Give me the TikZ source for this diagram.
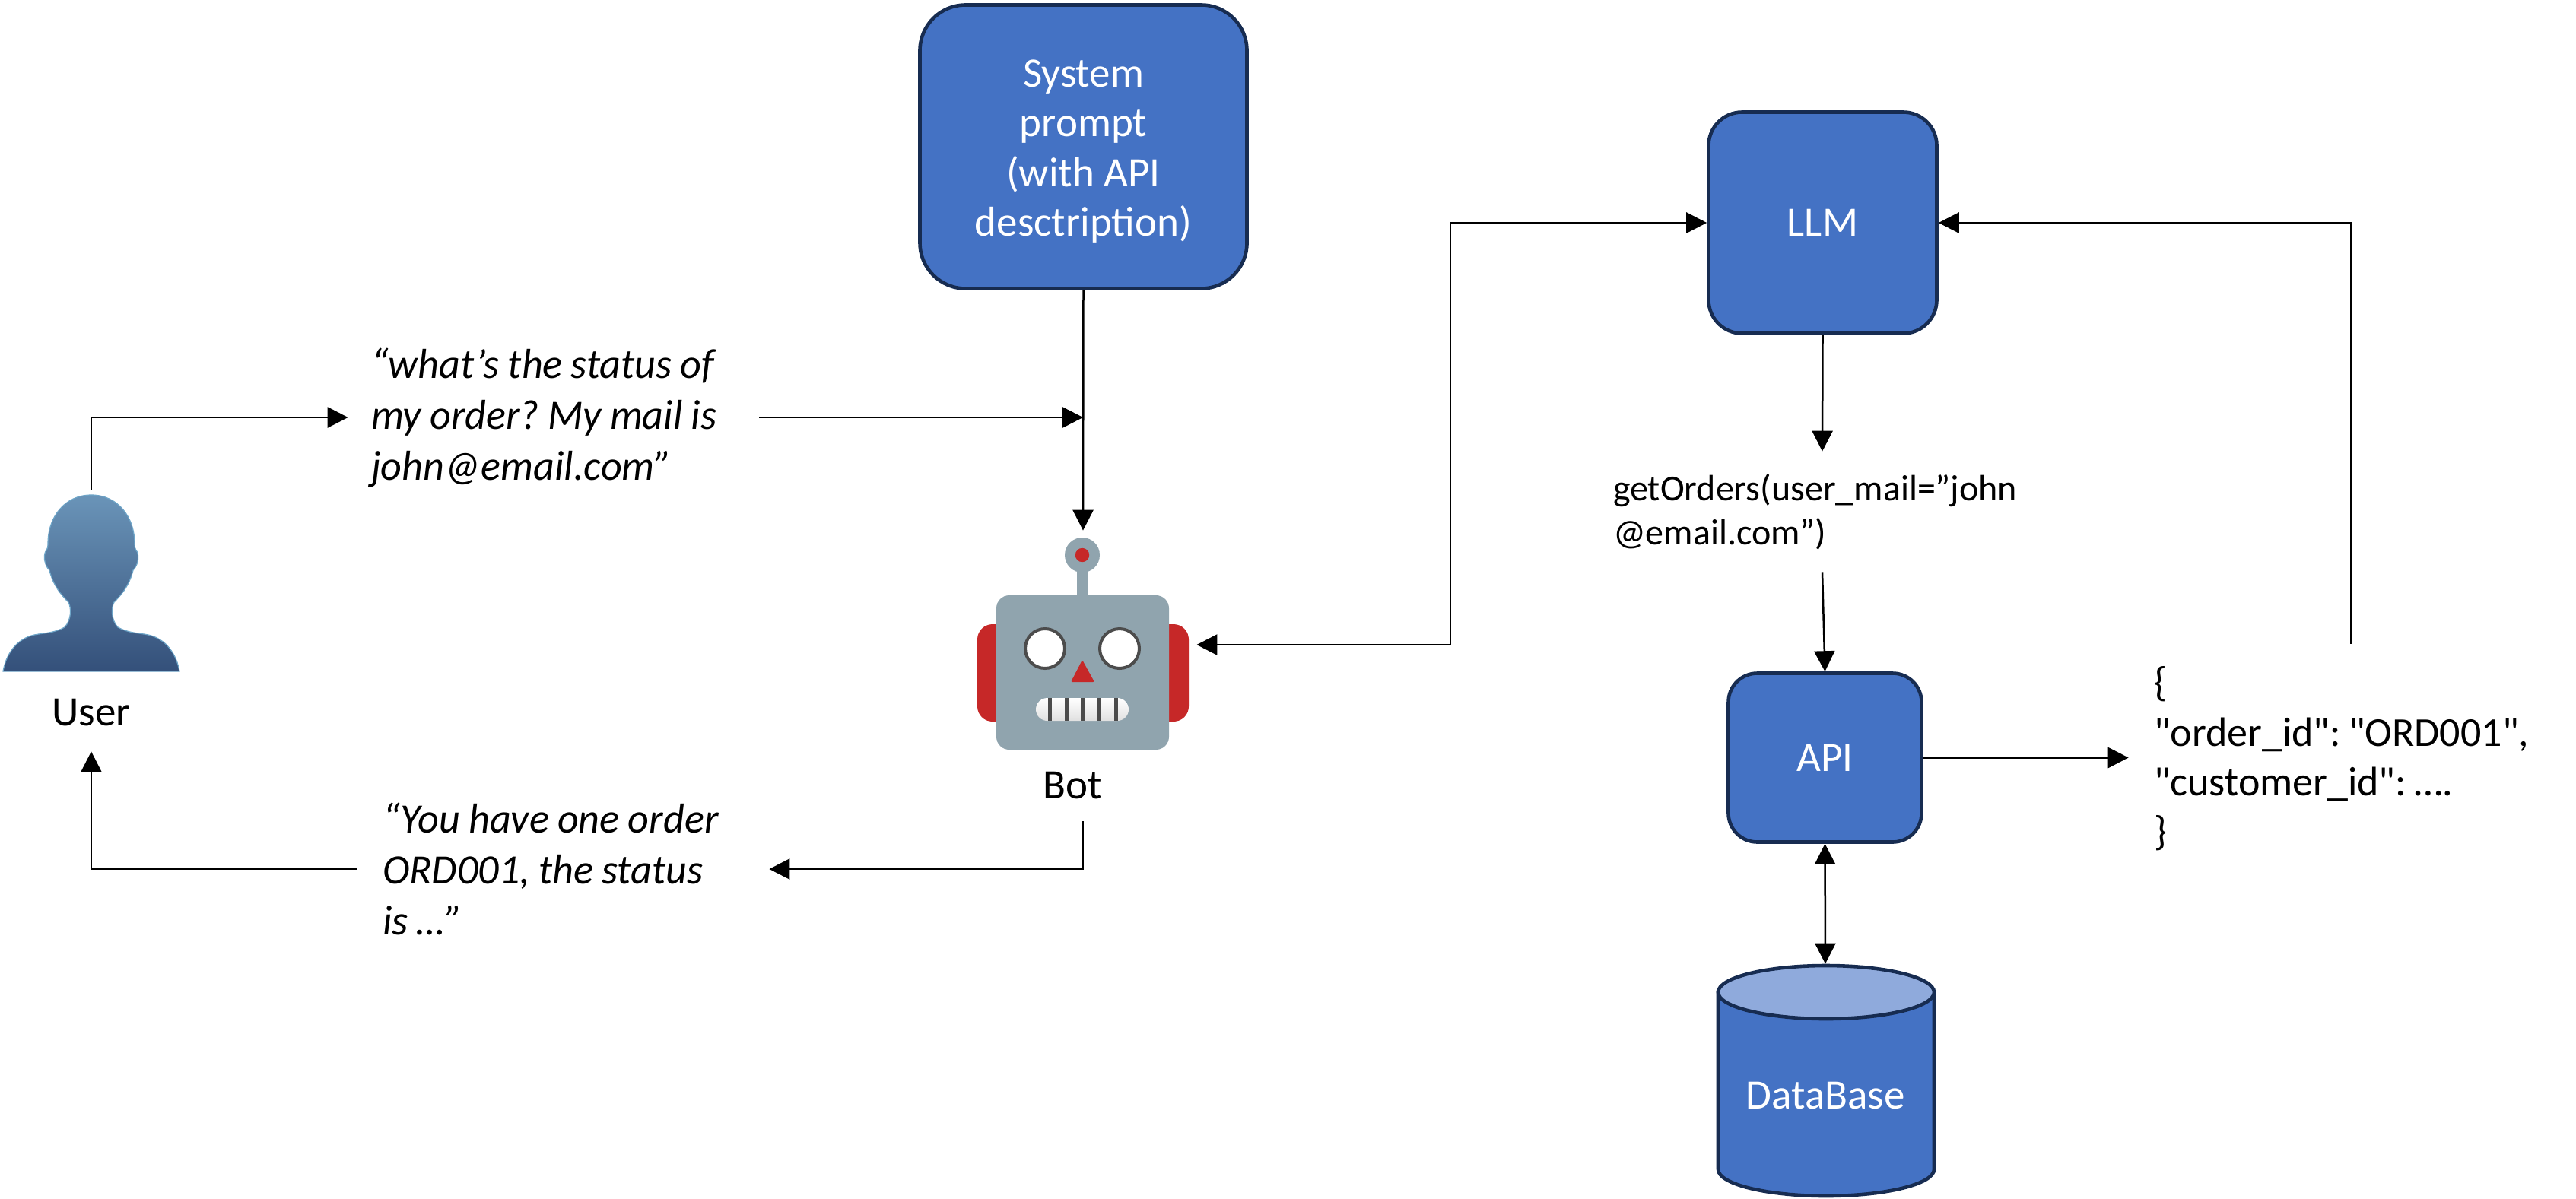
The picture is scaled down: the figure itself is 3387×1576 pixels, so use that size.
\documentclass[tikz,border=0pt]{standalone}
\usepackage{fontspec}
\setmainfont{Carlito}
\newfontfamily\jsonfont{Carlito}
\newfontfamily\quotefont[FakeStretch=0.985,Ligatures=TeX]{Carlito Italic}
\usetikzlibrary{arrows.meta}
\protected\def\tightsp{\frenchspacing\spaceskip=5.6pt\relax\xspaceskip=5.6pt\relax}
\protected\def\jsonsp{\frenchspacing\spaceskip=5pt\relax\xspaceskip=5pt\relax}
\definecolor{boxblue}{HTML}{4472C4}
\definecolor{boxedge}{HTML}{172C51}
\definecolor{dbcap}{HTML}{8FAADC}
\definecolor{robgrey}{HTML}{90A4AE}
\definecolor{robred}{HTML}{C62828}
\definecolor{persontop}{HTML}{6A94B8}
\definecolor{personbot}{HTML}{34507A}
\definecolor{personedge}{HTML}{6EA5C8}
\tikzset{
  x=0.5pt,y=-0.5pt,
  conn/.style={line width=1.25pt,-{Triangle[length=13.5pt,width=13.5pt]}},
  conntwo/.style={line width=1.25pt,{Triangle[length=13.5pt,width=13.5pt]}-{Triangle[length=13.5pt,width=13.5pt]}},
  bluebox/.style={draw=boxedge,fill=boxblue,line width=2.3pt,text=white,align=center,inner sep=0pt,font=\fontsize{27.5}{33}\selectfont},
  area/.style={inner sep=0pt,minimum width=#1},
  area/.default=0pt,
  quote/.style={inner ysep=0pt,align=left,font=\quotefont\fontsize{27.5}{33.5}\selectfont},
  plain/.style={inner sep=0pt,font=\fontsize{27.5}{33.5}\selectfont}
}
\begin{document}
\begin{tikzpicture}
\useasboundingbox (0,0) rectangle (3387,1576);
% person
\shade[top color=persontop,bottom color=personbot,draw=personedge,line width=0.6pt]
 (120,651) .. controls (155,651) and (177,680) .. (177,715)
 .. controls (177,720) and (178,722) .. (179,724)
 .. controls (183,727) and (183,742) .. (175,750)
 .. controls (170,770) and (160,782) .. (150,792)
 .. controls (146,800) and (146,815) .. (155,825)
 .. controls (170,833) and (180,832) .. (195,835)
 .. controls (218,840) and (232,860) .. (236,883)
 -- (4,883)
 .. controls (8,860) and (22,840) .. (45,835)
 .. controls (60,832) and (70,833) .. (85,825)
 .. controls (94,815) and (94,800) .. (90,792)
 .. controls (80,782) and (70,770) .. (65,750)
 .. controls (57,742) and (57,727) .. (61,724)
 .. controls (62,722) and (63,720) .. (63,715)
 .. controls (63,680) and (85,651) .. (120,651) -- cycle;
\node[area=116.5pt,minimum height=171.5pt] (user) at (120,816.5) {};
\node[plain] (userlabel) at (120,937) {User};
% robot
\fill[robred,rounded corners=10pt] (1285,821) rectangle (1563,949);
\fill[robgrey] (1416,740) rectangle (1431,790);
\fill[robgrey] (1423,730) circle (11.5pt);
\fill[robred] (1423,730) circle (4.6pt);
\fill[robgrey,rounded corners=8.5pt] (1310,783) rectangle (1537,986);
\draw[fill=white,draw=black!70,line width=2pt] (1374,853) circle (13pt);
\draw[fill=white,draw=black!70,line width=2pt] (1472,853) circle (13pt);
\fill[robred,rounded corners=1pt] (1423,868) -- (1439,897) -- (1408,897) -- cycle;
\shade[top color=white,bottom color=black!12,rounded corners=7.5pt] (1362,918) rectangle (1484,948);
\foreach \tx in {1380,1402,1423,1445,1467}{\fill[black!70] (\tx-2.5,918) rectangle (\tx+2.5,948);}
\node[area=149pt,minimum height=191pt] (bot) at (1424,889) {};
\node[plain] (botlabel) at (1410,1033) {Bot};
% boxes
\node[bluebox,rounded corners=30pt,minimum width=215pt,minimum height=186.5pt] (sys) at (1424.5,193) {};
\node[inner sep=0pt,align=center,text=white,font=\fontsize{27.5}{32.8}\selectfont] (syslabel) at (1424.5,199)
  {System\\prompt\\(with API\\desctription)};
\node[bluebox,rounded corners=22pt,minimum width=150pt,minimum height=145.5pt] (llm) at (2396.5,293) {LLM};
\node[bluebox,rounded corners=19pt,minimum width=127pt,minimum height=111pt] (api) at (2399.5,996.5) {API};
% database
\draw[fill=boxblue,draw=boxedge,line width=2.3pt] (2259,1305) -- (2259,1538)
  arc[start angle=180,end angle=360,x radius=71pt,y radius=17.5pt] -- (2543,1305) -- cycle;
\draw[fill=dbcap,draw=boxedge,line width=2.3pt] (2401,1305) ellipse [x radius=71pt,y radius=17.5pt];
\node[area=144pt,minimum height=153.5pt] (db) at (2400,1421.5) {};
\node[plain,text=white] (dblabel) at (2400,1441) {DataBase};
% texts
\node[quote,inner xsep=15pt,text width=240pt] (t1) at (728,549)
  {\tightsp “what’s the status of\\my order? My mail is\\john@email.com”};
\node[quote,inner xsep=17pt,text width=237pt] (t2) at (740,1143)
  {\tightsp “You have one order\\ORD001, the status\\is …”};
\node[inner xsep=0pt,inner ysep=0pt,text width=275pt,minimum height=79pt,align=left,font=\fontsize{24}{29}\selectfont] (get) at (2396,673)
  {getOrders(user\_mail=”john\\@email.com”)};
\node[inner xsep=16.5pt,inner ysep=0pt,text width=259pt,minimum height=151pt,align=left,font=\jsonfont\fontsize{27}{32.7}\selectfont] (json) at (3091,998)
  {\jsonsp \{\\"order\_id": "ORD001",\\"customer\_id": ….\\\}};
% connectors
\draw[conn] (user.north) |- (t1.west);
\draw[conn] (t1.east) -- (t1.east -| bot.north);
\draw[conn] (sys.south) -- (bot.north);
\draw[conn] (bot.south) |- (t2.east);
\draw[conn] (t2.west) -| (user.south);
\draw[conntwo] (llm.west) -- (1907,293) |- ([yshift=20.5pt]bot.east);
\draw[conn] (llm.south) -- (get.north);
\draw[conn] (get.south) -- (api.north);
\draw[conn] (api.east) -- (json.west |- api.east);
\draw[conn] (json.north) |- (llm.east);
\draw[conntwo] (api.south) -- (db.north);
\end{tikzpicture}
\end{document}
